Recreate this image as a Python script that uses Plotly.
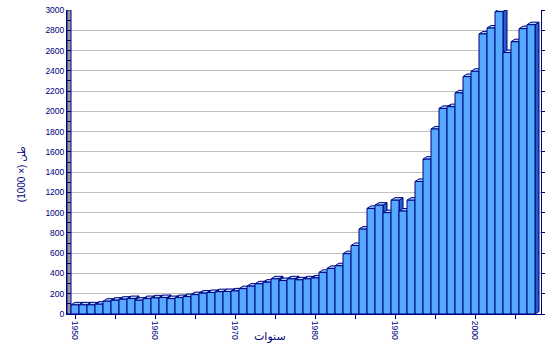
import plotly.graph_objects as go

years = list(range(1950, 2008))
values = [90, 90, 90, 97, 126, 136, 146, 152, 136, 152,
          159, 162, 152, 162, 172, 191, 206, 212, 220, 222,
          228, 250, 275, 298, 314, 347, 330, 347, 337, 347,
          356, 411, 450, 476, 595, 676, 838, 1042, 1074, 1000,
          1123, 1016, 1123, 1308, 1528, 1826, 2029, 2046, 2182, 2343,
          2395, 2764, 2822, 2984, 2580, 2687, 2816, 2855]
tick_years = list(range(1950, 2006, 5))
tick_text = [str(y) if y % 10 == 0 else "" for y in tick_years]
y_title = "(1000 ×) طن"
x_title = "سنوات"

NAVY = "#000080"
FRONT = "#55AAFF"
TOP = "#A6DCFF"
SIDE = "#2262C6"
FONT = "Liberation Sans, DejaVu Sans, sans-serif"

dx, dy = 0.5, 25  # 3D depth offset (in axis units)

side_x, side_y, top_x, top_y = [], [], [], []
for x, v in zip(years, values):
    side_x += [x + 0.5, x + 0.5 + dx, x + 0.5 + dx, x + 0.5, x + 0.5, None]
    side_y += [0, dy, v + dy, v, 0, None]
    top_x += [x - 0.5, x - 0.5 + dx, x + 0.5 + dx, x + 0.5, x - 0.5, None]
    top_y += [v, v + dy, v + dy, v, v, None]

fig = go.Figure()
fig.add_trace(go.Scatter(x=side_x, y=side_y, mode="lines", fill="toself",
                         fillcolor=SIDE, line=dict(color=NAVY, width=1),
                         hoverinfo="skip", showlegend=False, cliponaxis=False))
fig.add_trace(go.Scatter(x=top_x, y=top_y, mode="lines", fill="toself",
                         fillcolor=TOP, line=dict(color=NAVY, width=1),
                         hoverinfo="skip", showlegend=False, cliponaxis=False))
fig.add_trace(go.Bar(x=years, y=values, width=1, xaxis="x2", yaxis="y2",
                     marker=dict(color=FRONT, line=dict(color=NAVY, width=1)),
                     showlegend=False))

xr = [1949, 2008.25]
fig.update_layout(
    width=553, height=359,
    margin=dict(l=67, r=12, t=5, b=45),
    paper_bgcolor="white", plot_bgcolor="white",
    barmode="overlay",
    font=dict(family=FONT, color=NAVY, size=9),
    xaxis=dict(range=xr, tickvals=tick_years, ticktext=tick_text,
               ticks="outside", ticklen=4, tickcolor=NAVY, tickangle=90,
               tickfont=dict(size=8.5, color=NAVY, family=FONT),
               showline=True, linecolor=NAVY, linewidth=1,
               showgrid=False, zeroline=False),
    yaxis=dict(range=[0, 3000], dtick=200, ticks="inside", ticklen=4,
               tickcolor=NAVY, tickfont=dict(size=8.5, color=NAVY, family=FONT),
               ticklabeloverflow="allow",
               minor=dict(dtick=100, ticks="inside", ticklen=4, tickcolor=NAVY, showgrid=False),
               showgrid=True, gridcolor="#C0C0C0", gridwidth=1,
               showline=True, linecolor=NAVY, linewidth=1, zeroline=False),
    xaxis2=dict(range=xr, overlaying="x", visible=False),
    yaxis2=dict(range=[0, 3000], overlaying="y", side="right", dtick=200,
                ticks="outside", ticklen=3, tickcolor=NAVY,
                showticklabels=False, showgrid=False, zeroline=False,
                showline=True, linecolor=NAVY, linewidth=1),
    shapes=[dict(type="rect", xref="x", yref="y", x0=1949, x1=1949.5, y0=0, y1=3000,
                 fillcolor="#9A9A9A", line=dict(color=NAVY, width=1), layer="between")],
    annotations=[
        dict(text=y_title, xref="paper", yref="paper", x=-0.097, y=0.46,
             textangle=-90, showarrow=False, xanchor="center", yanchor="middle",
             font=dict(size=10, color=NAVY, family=FONT)),
        dict(text=x_title, xref="paper", yref="paper", x=0.428, y=-0.075,
             showarrow=False, xanchor="center", yanchor="middle",
             font=dict(size=11, color=NAVY, family=FONT)),
    ],
)

fig.write_html("out.html", config={"displayModeBar": False},
               post_script="document.body.style.margin='0';document.body.style.padding='0';")
